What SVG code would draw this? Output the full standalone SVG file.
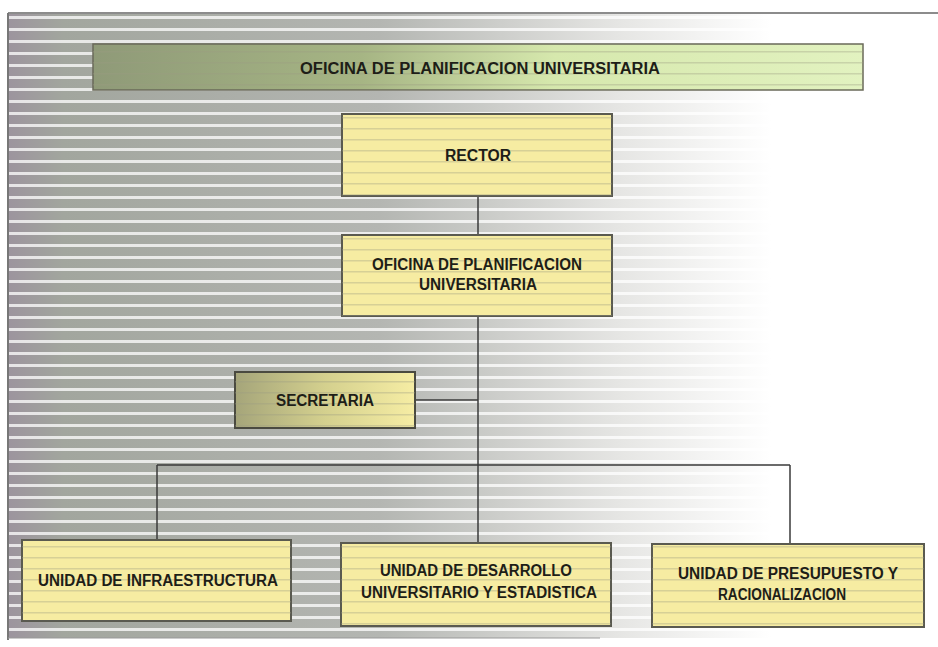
<svg xmlns="http://www.w3.org/2000/svg" width="938" height="647" viewBox="0 0 938 647">
<defs>
<linearGradient id="bg" x1="0" y1="0" x2="1" y2="0">
<stop offset="0" stop-color="#9c949e"/>
<stop offset="0.06" stop-color="#a2a69e"/>
<stop offset="0.4" stop-color="#b4b6b2"/>
<stop offset="0.66" stop-color="#e6e6e4"/>
<stop offset="0.82" stop-color="#ffffff"/>
</linearGradient>
<linearGradient id="title" x1="0" y1="0" x2="1" y2="0">
<stop offset="0" stop-color="#8f9a78"/>
<stop offset="0.35" stop-color="#a6b584"/>
<stop offset="0.6" stop-color="#d6e8ad"/>
<stop offset="1" stop-color="#e2f2c0"/>
</linearGradient>
<linearGradient id="sec" x1="0" y1="0" x2="1" y2="0">
<stop offset="0" stop-color="#a5a57a"/>
<stop offset="0.5" stop-color="#d4d08e"/>
<stop offset="1" stop-color="#f6eda4"/>
</linearGradient>
<pattern id="stripes" width="938" height="12" patternUnits="userSpaceOnUse">
<rect x="0" y="4" width="938" height="3" fill="#ffffff" opacity="0.75"/>
</pattern>
<pattern id="boxstripes" width="938" height="11" patternUnits="userSpaceOnUse">
<rect x="0" y="7" width="938" height="1.5" fill="#9a9a80" opacity="0.35"/>
</pattern>
</defs>
<style>
.box{fill:#f6eca2;stroke:#5a5a50;stroke-width:2}
.ov{fill:url(#boxstripes);stroke:none}
.t{font-family:"Liberation Sans",Arial,sans-serif;font-weight:bold;font-size:16px;fill:#1e1e18;text-anchor:middle}
.c{stroke:#3a3a3a;stroke-width:1.5;fill:none}
</style>
<rect width="938" height="647" fill="#ffffff"/>
<rect x="8" y="14" width="930" height="624" fill="url(#bg)"/>
<rect x="8" y="14" width="930" height="624" fill="url(#stripes)"/>
<line x1="8" y1="13" x2="938" y2="13" stroke="#666" stroke-width="1.5"/>
<line x1="8" y1="13" x2="8" y2="640" stroke="#777" stroke-width="2"/>
<line x1="8" y1="638" x2="600" y2="638" stroke="#999" stroke-width="1"/>

<g id="connectors">
<line class="c" x1="478" y1="196" x2="478" y2="235"/>
<line class="c" x1="478" y1="316" x2="478" y2="543"/>
<line class="c" x1="415" y1="400" x2="478" y2="400"/>
<line class="c" x1="157" y1="465" x2="790" y2="465"/>
<line class="c" x1="157" y1="465" x2="157" y2="540"/>
<line class="c" x1="790" y1="465" x2="790" y2="544"/>
</g>

<g id="title-box">
<rect x="93" y="44" width="770" height="46" fill="url(#title)" stroke="#6a6a5a" stroke-width="1.5"/>
<rect class="ov" x="93" y="44" width="770" height="46"/>
<text class="t" x="480" y="74" textLength="360" lengthAdjust="spacingAndGlyphs">OFICINA DE PLANIFICACION UNIVERSITARIA</text>
</g>

<g id="rector">
<rect class="box" x="342" y="114" width="270" height="82"/>
<rect class="ov" x="342" y="114" width="270" height="82"/>
<text class="t" x="478" y="161" textLength="66" lengthAdjust="spacingAndGlyphs">RECTOR</text>
</g>

<g id="oficina">
<rect class="box" x="342" y="235" width="270" height="81"/>
<rect class="ov" x="342" y="235" width="270" height="81"/>
<text class="t" x="477" y="270" textLength="210" lengthAdjust="spacingAndGlyphs">OFICINA DE PLANIFICACION</text>
<text class="t" x="478" y="290" textLength="118" lengthAdjust="spacingAndGlyphs">UNIVERSITARIA</text>
</g>

<g id="secretaria">
<rect x="235" y="372" width="180" height="56" fill="url(#sec)" stroke="#4a4a40" stroke-width="2"/>
<rect class="ov" x="235" y="372" width="180" height="56"/>
<text class="t" x="325" y="406" textLength="98" lengthAdjust="spacingAndGlyphs">SECRETARIA</text>
</g>

<g id="infraestructura">
<rect class="box" x="22" y="540" width="269" height="81"/>
<rect class="ov" x="22" y="540" width="269" height="81"/>
<text class="t" x="158" y="586" textLength="240" lengthAdjust="spacingAndGlyphs">UNIDAD DE INFRAESTRUCTURA</text>
</g>

<g id="desarrollo">
<rect class="box" x="341" y="543" width="270" height="83"/>
<rect class="ov" x="341" y="543" width="270" height="83"/>
<text class="t" x="476" y="576" textLength="192" lengthAdjust="spacingAndGlyphs">UNIDAD DE DESARROLLO</text>
<text class="t" x="479" y="598" textLength="236" lengthAdjust="spacingAndGlyphs">UNIVERSITARIO Y ESTADISTICA</text>
</g>

<g id="presupuesto">
<rect class="box" x="652" y="544" width="272" height="83"/>
<rect class="ov" x="652" y="544" width="272" height="83"/>
<text class="t" x="788" y="579" textLength="220" lengthAdjust="spacingAndGlyphs">UNIDAD DE PRESUPUESTO Y</text>
<text class="t" x="782" y="600" textLength="128" lengthAdjust="spacingAndGlyphs">RACIONALIZACION</text>
</g>
</svg>
